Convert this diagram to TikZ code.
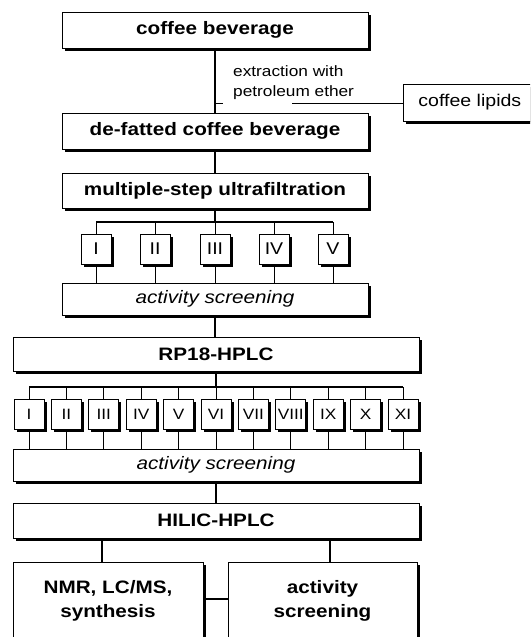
\documentclass[tikz,border=0pt]{standalone}
\usepackage{fontspec}
\setmainfont[FakeStretch=1.15]{Liberation Sans}
\usetikzlibrary{shadows}
\begin{document}
\begin{tikzpicture}[x=1pt,y=-1pt,
  box/.style={draw, fill=white, line width=0.8pt, inner sep=0pt,
    drop shadow={shadow xshift=2.6pt, shadow yshift=-2.6pt, fill=black, opacity=1}},
  big/.style={box, font=\fontsize{18}{24}\selectfont\bfseries},
  ital/.style={box, font=\fontsize{18}{20}\selectfont\itshape},
  fraca/.style={box, minimum width=30pt, minimum height=30pt, font=\fontsize{17}{18}\selectfont},
  fracb/.style={box, minimum width=30pt, minimum height=30pt, font=\fontsize{15}{18}\selectfont},
  link/.style={line width=1.5pt},
  thin/.style={line width=0.8pt}]

\useasboundingbox (0,0) rectangle (530,637);
\clip (0,0) rectangle (530,637);

% top chain
\node[big, minimum width=306pt, minimum height=36pt] (cb) at (215,30) {coffee beverage};
\node[big, minimum width=306pt, minimum height=36pt] (df) at (215,131) {de-fatted coffee beverage};
\node[big, minimum width=306pt, minimum height=35pt] (ms) at (215,190.5) {multiple-step ultrafiltration};

% extraction
\node[anchor=north west, align=left, inner sep=0pt, font=\fontsize{15}{20}\selectfont] (ex) at (233,65) {extraction with\\petroleum ether};
\node[box, anchor=west, inner xsep=15pt, minimum height=37pt, font=\fontsize{17}{20}\selectfont] (cl) at (403,102.5) {coffee lipids};
\coordinate (tk) at (223,103);
\coordinate (lp) at (292,103);
\draw[link] (cb.south) -- (df.north);
\draw[thin] (cb.south |- tk) -- (tk);
\draw[thin] (lp) -- (cl.west |- lp);
\draw[link] (df.south) -- (ms.north);

% ultrafiltration fractions
\coordinate (bus1) at (0,222);
\foreach \l/\x [count=\i] in {I/96,II/155,III/215,IV/274,V/333}
  \node[fraca] (f\i) at (\x,249) {\l};
\node[ital, minimum width=306pt, minimum height=32pt] (as1) at (215,299) {activity screening};
\draw[link] (ms.south) -- (ms.south |- bus1);
\draw[link] (f1.north |- bus1) -- (f5.north |- bus1);
\foreach \i in {1,...,5} {
  \draw[thin] (f\i.north |- bus1) -- (f\i.north);
  \draw[thin] (f\i.south) -- (f\i.south |- as1.north);
}

% RP18
\node[big, minimum width=406pt, minimum height=34pt] (rp) at (216,354) {RP18-HPLC};
\draw[link] (as1.south) -- (as1.south |- rp.north);

\coordinate (bus2) at (0,387);
\foreach \l [count=\i] in {I,II,III,IV,V,VI,VII,VIII,IX,X,XI}
  \node[fracb] (g\i) at ({29+37.4*(\i-1)},414) {\l};
\node[ital, minimum width=406pt, minimum height=32pt] (as2) at (216,465) {activity screening};
\draw[link] (rp.south) -- (rp.south |- bus2);
\draw[link] (g1.north |- bus2) -- (g11.north |- bus2);
\foreach \i in {1,...,11} {
  \draw[thin] (g\i.north |- bus2) -- (g\i.north);
  \draw[thin] (g\i.south) -- (g\i.south |- as2.north);
}

% HILIC
\node[big, minimum width=406pt, minimum height=35pt] (hi) at (216,520.5) {HILIC-HPLC};
\draw[link] (as2.south) -- (as2.south |- hi.north);

\node[big, minimum width=190pt, minimum height=78pt, align=center] (nmr) at (108,601) {NMR, LC/MS,\\synthesis};
\node[big, minimum width=189pt, minimum height=78pt, align=center] (act) at (322.5,601) {activity\\screening};
\coordinate (h1) at (102,0);
\coordinate (h2) at (330,0);
\coordinate (hl) at (0,599);
\draw[link] (h1 |- hi.south) -- (h1 |- nmr.north);
\draw[link] (h2 |- hi.south) -- (h2 |- act.north);
\draw[link] (nmr.east |- hl) -- (act.west |- hl);
\end{tikzpicture}
\end{document}
